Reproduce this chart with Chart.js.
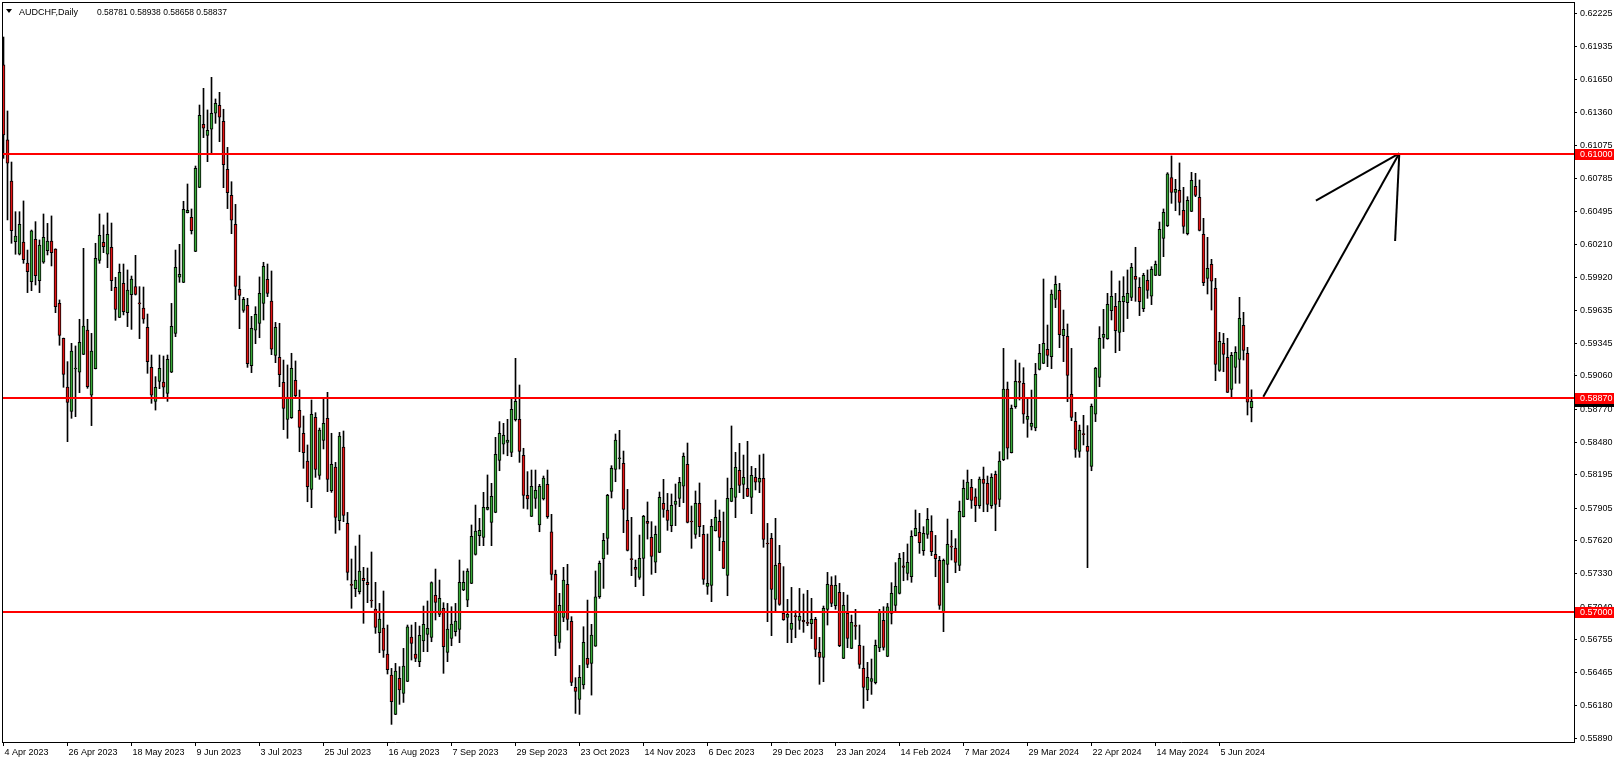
<!DOCTYPE html>
<html>
<head>
<meta charset="utf-8">
<script src="https://cdn.jsdelivr.net/npm/chart.js@4.4.1/dist/chart.umd.min.js"></script>
<style>
  html, body { margin: 0; padding: 0; background: #fff; }
  #wrap { width: 1620px; height: 763px; }
</style>
</head>
<body>
<div id="wrap"><canvas id="chart" width="1620" height="763"></canvas></div>
<script>
// AUDCHF daily candles, 4 Apr 2023 .. mid Jun 2024
const symbolTitle = 'AUDCHF,Daily';
const lastOHLC = [0.58781, 0.58938, 0.58658, 0.58837];

const opens = [
  0.61776,0.61121,0.60762,0.60232,0.60122,0.60229,0.60046,0.59883,0.60253,0.59892,
  0.60052,0.60154,0.60238,0.60168,0.59693,0.59388,0.58962,0.58750,0.59120,0.59091,
  0.59248,0.59460,0.58890,0.59123,0.60069,0.60226,0.60122,0.60183,0.59833,0.59571,
  0.59868,0.59612,0.59769,0.59839,0.59693,0.59653,0.59484,0.59134,0.58837,0.59012,
  0.59006,0.58907,0.59091,0.59431,0.59921,0.59877,0.60486,0.60445,0.60148,0.60707,
  0.61257,0.61161,0.61214,0.61354,0.61423,0.61284,0.60864,0.60637,0.60384,0.59816,
  0.59632,0.59676,0.59149,0.59458,0.59519,0.59693,0.59903,0.59714,0.59239,0.59222,
  0.59003,0.58680,0.58694,0.59021,0.58759,0.58558,0.58316,0.58068,0.58697,0.58191,
  0.58496,0.58689,0.58057,0.58263,0.57795,0.58438,0.57771,0.57235,0.57200,0.57174,
  0.57291,0.57256,0.57099,0.57023,0.56816,0.56857,0.56630,0.56446,0.56102,0.56417,
  0.56286,0.56391,0.56778,0.56630,0.56563,0.56743,0.56801,0.56775,0.57142,0.56976,
  0.57029,0.56644,0.56766,0.56825,0.56845,0.57189,0.57101,0.57247,0.57500,0.57663,
  0.57649,0.57894,0.57780,0.57867,0.58322,0.58462,0.58479,0.58392,0.58677,0.58680,
  0.58365,0.58016,0.57832,0.57990,0.57757,0.57984,0.58112,0.57698,0.57326,0.56731,
  0.56950,0.57238,0.56915,0.56338,0.56233,0.56359,0.56592,0.56548,0.56699,0.57130,
  0.57460,0.57640,0.58051,0.58243,0.58336,0.58295,0.57797,0.57460,0.57387,0.57299,
  0.57465,0.57789,0.57649,0.57431,0.57518,0.57946,0.57888,0.57751,0.57937,0.57990,
  0.58095,0.58287,0.57789,0.57675,0.57946,0.57675,0.57221,0.57230,0.57707,0.57789,
  0.57614,0.57317,0.57963,0.57998,0.58234,0.58112,0.58077,0.57998,0.58173,0.58130,
  0.58164,0.57597,0.57640,0.57107,0.57422,0.56985,0.56950,0.56845,0.56962,0.56924,
  0.56924,0.56903,0.56895,0.56932,0.56644,0.56600,0.57020,0.57232,0.57052,0.57168,
  0.56592,0.56985,0.56679,0.56877,0.56705,0.56504,0.56315,0.56391,0.56379,0.56682,
  0.56924,0.56609,0.56985,0.57055,0.57160,0.57401,0.57334,0.57305,0.57664,0.57693,
  0.57532,0.57675,0.57701,0.57500,0.57448,0.56999,0.57413,0.57570,0.57556,0.57404,
  0.57830,0.57981,0.58086,0.58004,0.57926,0.58159,0.58121,0.57926,0.58199,0.57981,
  0.58328,0.58945,0.58389,0.58791,0.59009,0.58995,0.58680,0.58619,0.58604,0.59117,
  0.59169,0.59292,0.59227,0.59728,0.59807,0.59411,0.59405,0.58898,0.58662,0.58400,
  0.58552,0.58444,0.58269,0.58724,0.59047,0.59396,0.59385,0.59629,0.59667,0.59440,
  0.59708,0.59699,0.59746,0.59929,0.59833,0.59647,0.59894,0.59755,0.59938,0.59938,
  0.60261,0.60372,0.60792,0.60663,0.60681,0.60506,0.60302,0.60497,0.60716,0.60620,
  0.60296,0.59912,0.60034,0.59825,0.59108,0.59344,0.59222,0.58942,0.59134,0.59204,
  0.59501,0.59257,0.58781
];
const highs = [
  0.62020,0.61374,0.60928,0.60494,0.60494,0.60588,0.60159,0.60334,0.60407,0.60247,
  0.60474,0.60392,0.60457,0.60170,0.59723,0.59390,0.59184,0.59344,0.59321,0.59554,
  0.60174,0.59554,0.59431,0.60218,0.60474,0.60378,0.60483,0.60395,0.59921,0.60037,
  0.60037,0.59985,0.59932,0.60113,0.59839,0.59836,0.59600,0.59242,0.59053,0.59242,
  0.59233,0.59242,0.59693,0.60159,0.60209,0.60585,0.60736,0.60518,0.60893,0.61426,
  0.61572,0.61383,0.61668,0.61479,0.61537,0.61389,0.61056,0.60756,0.60558,0.59932,
  0.59746,0.59737,0.59580,0.59664,0.59924,0.60052,0.60037,0.59976,0.59527,0.59519,
  0.59198,0.59155,0.59257,0.59190,0.58936,0.58709,0.58456,0.58849,0.58738,0.58604,
  0.58858,0.58916,0.58558,0.58304,0.58566,0.58578,0.57867,0.57460,0.57573,0.57669,
  0.57387,0.57381,0.57521,0.57256,0.57072,0.57180,0.56883,0.56504,0.56548,0.56519,
  0.56679,0.56883,0.56883,0.56906,0.56874,0.57049,0.57093,0.57260,0.57372,0.57276,
  0.57078,0.57072,0.57043,0.57072,0.57451,0.57355,0.57375,0.57757,0.57931,0.57815,
  0.58042,0.58194,0.58121,0.58523,0.58660,0.58645,0.58680,0.58863,0.59213,0.58980,
  0.58427,0.58223,0.58237,0.58237,0.58112,0.58185,0.58237,0.57850,0.57363,0.57160,
  0.57387,0.57413,0.56956,0.56423,0.56530,0.56868,0.57101,0.56889,0.57355,0.57442,
  0.57684,0.58025,0.58275,0.58552,0.58584,0.58403,0.58068,0.57824,0.57451,0.57669,
  0.57841,0.57958,0.57786,0.57748,0.58045,0.58156,0.58033,0.58028,0.58115,0.58173,
  0.58386,0.58473,0.57923,0.58054,0.58124,0.57754,0.57678,0.57806,0.57975,0.57888,
  0.57870,0.58167,0.58622,0.58392,0.58470,0.58368,0.58488,0.58269,0.58252,0.58368,
  0.58377,0.57771,0.57684,0.57815,0.57579,0.57393,0.57107,0.57212,0.57008,0.57203,
  0.57154,0.57186,0.57116,0.56950,0.56775,0.57049,0.57343,0.57305,0.57314,0.57247,
  0.57168,0.57145,0.56970,0.57020,0.56883,0.56699,0.56557,0.56586,0.56752,0.57020,
  0.57043,0.57072,0.57253,0.57428,0.57509,0.57518,0.57591,0.57707,0.57888,0.57859,
  0.57742,0.57902,0.57838,0.57666,0.57483,0.57460,0.57809,0.57710,0.57637,0.57966,
  0.58150,0.58237,0.58156,0.58074,0.58176,0.58263,0.58185,0.58205,0.58228,0.58397,
  0.59300,0.59006,0.58805,0.59198,0.59172,0.59131,0.58869,0.58936,0.59169,0.59335,
  0.59906,0.59504,0.59810,0.59932,0.59868,0.59635,0.59513,0.59300,0.58741,0.58630,
  0.58715,0.58625,0.58814,0.59134,0.59490,0.59641,0.59781,0.59976,0.59781,0.59889,
  0.59926,0.59985,0.60043,0.60183,0.59918,0.59956,0.59985,0.60014,0.60063,0.60404,
  0.60518,0.60835,0.60981,0.60777,0.60920,0.60707,0.60625,0.60838,0.60829,0.60771,
  0.60436,0.60270,0.60078,0.59912,0.59440,0.59431,0.59388,0.59265,0.59315,0.59746,
  0.59615,0.59309,0.58938
];
const lows = [
  0.60960,0.60422,0.60218,0.60122,0.60116,0.60043,0.59787,0.59804,0.59854,0.59787,
  0.60043,0.60116,0.60020,0.59612,0.59327,0.58960,0.58485,0.58689,0.58703,0.58913,
  0.59245,0.58951,0.58625,0.59120,0.60043,0.60136,0.60005,0.59804,0.59545,0.59568,
  0.59592,0.59490,0.59466,0.59766,0.59385,0.59519,0.59082,0.58820,0.58761,0.58948,
  0.58878,0.58837,0.59088,0.59402,0.59877,0.59874,0.60483,0.60299,0.60145,0.60704,
  0.61141,0.60931,0.60995,0.61266,0.61106,0.60704,0.60521,0.60302,0.59725,0.59472,
  0.59615,0.59134,0.59088,0.59341,0.59393,0.59548,0.59752,0.59245,0.59175,0.58965,
  0.58590,0.58514,0.58688,0.58863,0.58397,0.58252,0.57960,0.57908,0.58173,0.58156,
  0.58421,0.58048,0.58042,0.57684,0.57713,0.57786,0.57276,0.57029,0.57131,0.57154,
  0.56898,0.57078,0.57037,0.56810,0.56641,0.56600,0.56455,0.56015,0.56100,0.56190,
  0.56207,0.56388,0.56577,0.56563,0.56519,0.56650,0.56650,0.56737,0.56927,0.56956,
  0.56461,0.56563,0.56702,0.56787,0.56729,0.57183,0.57043,0.57244,0.57494,0.57576,
  0.57576,0.57888,0.57576,0.57864,0.58231,0.58377,0.58362,0.58354,0.58665,0.58304,
  0.57902,0.57896,0.57830,0.57902,0.57698,0.57975,0.57815,0.57276,0.56615,0.56679,
  0.56912,0.56839,0.56353,0.56111,0.56102,0.56324,0.56510,0.56271,0.56696,0.57116,
  0.57203,0.57500,0.57993,0.58135,0.58246,0.57690,0.57530,0.57314,0.57218,0.57282,
  0.57139,0.57634,0.57326,0.57340,0.57515,0.57824,0.57710,0.57698,0.57751,0.57917,
  0.57952,0.57775,0.57553,0.57640,0.57655,0.57238,0.57151,0.57087,0.57704,0.57532,
  0.57375,0.57139,0.57960,0.57821,0.58039,0.57987,0.58005,0.57856,0.58063,0.58039,
  0.57562,0.56912,0.56790,0.56999,0.57055,0.56924,0.56729,0.56729,0.56772,0.56845,
  0.56819,0.56877,0.56764,0.56606,0.56365,0.56388,0.56883,0.57043,0.57020,0.56694,
  0.56589,0.56685,0.56676,0.56758,0.56504,0.56155,0.56222,0.56277,0.56368,0.56650,
  0.56664,0.56606,0.56892,0.57008,0.57154,0.57270,0.57276,0.57256,0.57661,0.57509,
  0.57492,0.57640,0.57489,0.57305,0.57020,0.56825,0.57253,0.57451,0.57340,0.57358,
  0.57827,0.57978,0.57902,0.57786,0.57902,0.57873,0.57873,0.57902,0.57707,0.57917,
  0.58319,0.58333,0.58386,0.58776,0.58849,0.58645,0.58523,0.58587,0.58580,0.59111,
  0.59166,0.59140,0.59123,0.59656,0.59306,0.59184,0.58834,0.58668,0.58348,0.58348,
  0.58456,0.57384,0.58231,0.58660,0.58965,0.59300,0.59379,0.59548,0.59262,0.59280,
  0.59446,0.59560,0.59717,0.59711,0.59586,0.59621,0.59737,0.59682,0.59935,0.59935,
  0.60101,0.60364,0.60567,0.60503,0.60465,0.60305,0.60291,0.60494,0.60625,0.60326,
  0.59848,0.59775,0.59635,0.59018,0.59099,0.59096,0.58914,0.58861,0.58995,0.58995,
  0.59198,0.58718,0.58658
];
const closes = [
  0.61164,0.60917,0.60328,0.60282,0.60384,0.60075,0.59970,0.60326,0.59935,0.60203,
  0.60270,0.60238,0.60136,0.59664,0.59414,0.59073,0.58828,0.59277,0.59126,0.59353,
  0.59495,0.58965,0.59277,0.60087,0.60288,0.60189,0.60296,0.59892,0.59641,0.59964,
  0.59621,0.59810,0.59906,0.59772,0.59688,0.59554,0.59184,0.58890,0.58960,0.59126,
  0.58960,0.59204,0.59492,0.60008,0.59947,0.60515,0.60506,0.60328,0.60873,0.61336,
  0.61223,0.61205,0.61354,0.61441,0.61319,0.60905,0.60660,0.60419,0.59842,0.59763,
  0.59728,0.59166,0.59475,0.59597,0.59781,0.60017,0.59781,0.59292,0.59484,0.59070,
  0.58776,0.58863,0.59126,0.58887,0.58610,0.58389,0.58092,0.58724,0.58243,0.58587,
  0.58645,0.58156,0.58287,0.57824,0.58534,0.57841,0.57343,0.57230,0.57276,0.57355,
  0.57270,0.57235,0.57093,0.56863,0.56935,0.56662,0.56493,0.56213,0.56481,0.56315,
  0.56525,0.56868,0.56723,0.56592,0.56793,0.56889,0.56854,0.57253,0.57081,0.57116,
  0.56694,0.56848,0.56892,0.56918,0.57256,0.57256,0.57355,0.57658,0.57704,0.57710,
  0.57911,0.57911,0.58007,0.58374,0.58558,0.58540,0.58499,0.58767,0.58837,0.58400,
  0.58016,0.57984,0.58095,0.58060,0.58095,0.58167,0.57829,0.57326,0.56790,0.57055,
  0.57276,0.56932,0.56382,0.56303,0.56426,0.56731,0.56539,0.56796,0.57130,0.57422,
  0.57623,0.58016,0.58252,0.58499,0.58342,0.57894,0.57535,0.57454,0.57369,0.57465,
  0.57832,0.57771,0.57483,0.57675,0.57998,0.57894,0.57797,0.57929,0.57966,0.58130,
  0.58357,0.57780,0.57783,0.57946,0.57742,0.57282,0.57247,0.57745,0.57824,0.57649,
  0.57378,0.57990,0.58077,0.58261,0.58103,0.58173,0.58007,0.58191,0.58130,0.58164,
  0.57631,0.57591,0.57195,0.57404,0.57063,0.56930,0.56976,0.56898,0.56956,0.56959,
  0.56912,0.56898,0.56932,0.56670,0.56600,0.57028,0.57238,0.57072,0.57230,0.56702,
  0.57055,0.56766,0.56906,0.56871,0.56539,0.56338,0.56426,0.56414,0.56705,0.56999,
  0.56688,0.57043,0.57160,0.57221,0.57465,0.57387,0.57430,0.57658,0.57728,0.57602,
  0.57684,0.57806,0.57524,0.57463,0.57055,0.57448,0.57588,0.57564,0.57430,0.57876,
  0.58077,0.58132,0.57972,0.57926,0.58159,0.58121,0.57937,0.58173,0.57937,0.58316,
  0.58945,0.58427,0.58776,0.59012,0.59003,0.58724,0.58706,0.58645,0.59073,0.59257,
  0.59344,0.59239,0.59775,0.59860,0.59420,0.59466,0.59064,0.58697,0.58418,0.58584,
  0.58546,0.58400,0.58794,0.59126,0.59388,0.59423,0.59685,0.59755,0.59455,0.59711,
  0.59755,0.59781,0.60008,0.59903,0.59708,0.59938,0.59807,0.59991,0.60034,0.60340,
  0.60489,0.60824,0.60663,0.60690,0.60576,0.60366,0.60593,0.60768,0.60637,0.60331,
  0.59874,0.59999,0.59886,0.59160,0.59361,0.59248,0.58916,0.59239,0.59265,0.59562,
  0.59283,0.58829,0.58837
];

// right price axis
const yTicks = [0.62225,0.61935,0.61650,0.61360,0.61075,0.60785,0.60495,0.60210,0.59920,0.59635,
  0.59345,0.59060,0.58770,0.58480,0.58195,0.57905,0.57620,0.57330,0.57040,0.56755,0.56465,0.56180,0.55890];
const yMin = 0.55861, yMax = 0.62326;

// bottom time axis (bar index -> label)
const dateTickIndex = [0,16,32,48,64,80,96,112,128,144,160,176,192,208,224,240,256,272,288,304];
const dateTickLabels = ['4 Apr 2023','26 Apr 2023','18 May 2023','9 Jun 2023','3 Jul 2023','25 Jul 2023',
  '16 Aug 2023','7 Sep 2023','29 Sep 2023','23 Oct 2023','14 Nov 2023','6 Dec 2023','29 Dec 2023',
  '23 Jan 2024','14 Feb 2024','7 Mar 2024','29 Mar 2024','22 Apr 2024','14 May 2024','5 Jun 2024'];
const xMin = -0.375, xMax = 392.625;

// horizontal levels + hand-drawn arrow (bar index, price)
const levels = [0.61000, 0.58870, 0.57000];
const arrowX = [[314.95, 348.95], [348.95, 328.1], [348.95, 347.9]];
const arrowY = [[0.58878, 0.61004], [0.61004, 0.60590], [0.61004, 0.60238]];

const FONT = '"Liberation Sans", Arial, sans-serif';
const UP = '#37a837', DOWN = '#e31414';

const idx = opens.map((_, i) => i);
const wickData = idx.map(i => ({ x: i, y: [lows[i], highs[i]] }));
const bodyData = idx.map(i => ({ x: i, y: [opens[i], closes[i]] }));
const bodyColors = idx.map(i => closes[i] >= opens[i] ? UP : DOWN);

const arrowSets = arrowX.map((xs, k) => ({
  type: 'line',
  data: xs.map((x, j) => ({ x: x, y: arrowY[k][j] })),
  borderColor: '#000',
  borderWidth: 2,
  pointRadius: 0,
  tension: 0,
  fill: false,
  order: 2
}));

function priceLabel(ctx, y, text, bg) {
  ctx.fillStyle = bg;
  ctx.fillRect(1575, Math.round(y) - 5, 39, 11);
  ctx.fillStyle = '#fff';
  ctx.textBaseline = 'middle';
  ctx.textAlign = 'left';
  ctx.fillText(text, 1580, Math.round(y) + 0.5);
}

const decor = {
  id: 'decor',
  afterDatasetsDraw(chart) {
    const ctx = chart.ctx, a = chart.chartArea, ys = chart.scales.y;
    ctx.save();
    // red support / resistance lines
    ctx.strokeStyle = '#ff0000';
    ctx.lineWidth = 2;
    levels.forEach(v => {
      const y = Math.round(ys.getPixelForValue(v));
      ctx.beginPath();
      ctx.moveTo(a.left, y);
      ctx.lineTo(a.right, y);
      ctx.stroke();
    });
    ctx.restore();
  },
  afterDraw(chart) {
    const ctx = chart.ctx, a = chart.chartArea, ys = chart.scales.y;
    ctx.save();
    // frame left/top
    ctx.fillStyle = '#000';
    ctx.fillRect(a.left, a.top, 1, a.bottom - a.top);
    ctx.fillRect(a.left, a.top, a.right - a.left, 1);

    ctx.font = '9px ' + FONT;
    // current bid label (black), then level labels on top
    priceLabel(ctx, ys.getPixelForValue(lastOHLC[3]), lastOHLC[3].toFixed(5), '#000');
    levels.forEach(v => priceLabel(ctx, ys.getPixelForValue(v), v.toFixed(5), '#ff0000'));

    // title
    ctx.fillStyle = '#000';
    ctx.beginPath();
    ctx.moveTo(6, 9); ctx.lineTo(12, 9); ctx.lineTo(9, 13); ctx.closePath();
    ctx.fill();
    ctx.textBaseline = 'alphabetic';
    ctx.textAlign = 'left';
    ctx.font = '9px ' + FONT;
    ctx.fillText(symbolTitle, 19, 15);
    ctx.font = '8.5px ' + FONT;
    ctx.fillText(lastOHLC.map(v => v.toFixed(5)).join(' '), 97, 15);
    ctx.restore();
  }
};

new Chart(document.getElementById('chart'), {
  type: 'bar',
  data: {
    datasets: [
      {
        data: bodyData,
        backgroundColor: bodyColors,
        borderColor: '#000',
        borderWidth: 1,
        borderSkipped: false,
        barThickness: 3,
        minBarLength: 1,
        grouped: false,
        order: 0
      },
      {
        data: wickData,
        backgroundColor: '#000',
        borderWidth: 0,
        barThickness: 1,
        minBarLength: 1,
        grouped: false,
        order: 1
      },
      ...arrowSets
    ]
  },
  options: {
    responsive: false,
    animation: false,
    events: [],
    layout: { padding: { left: 2, top: 2, right: 0, bottom: 0 } },
    plugins: { legend: { display: false }, tooltip: { enabled: false } },
    scales: {
      x: {
        type: 'linear',
        min: xMin,
        max: xMax,
        offset: false,
        afterBuildTicks: s => { s.ticks = dateTickIndex.map(v => ({ value: v })); },
        afterFit: s => { s.height = 21; s.paddingLeft = 0; s.paddingRight = 0; },
        ticks: {
          callback: v => dateTickLabels[dateTickIndex.indexOf(v)],
          autoSkip: false,
          maxRotation: 0,
          minRotation: 0,
          align: 'start',
          labelOffset: 1,
          padding: 1,
          color: '#000',
          font: { family: FONT, size: 9 }
        },
        grid: { drawOnChartArea: false, drawTicks: true, tickLength: 4, color: '#000', offset: false },
        border: { display: true, color: '#000', width: 1 }
      },
      y: {
        type: 'linear',
        position: 'right',
        min: yMin,
        max: yMax,
        afterBuildTicks: s => { s.ticks = yTicks.map(v => ({ value: v })); },
        afterFit: s => { s.width = 46; s.paddingTop = 0; s.paddingBottom = 0; },
        ticks: {
          callback: v => Number(v).toFixed(5),
          autoSkip: false,
          padding: 3,
          color: '#000',
          font: { family: FONT, size: 9 }
        },
        grid: { drawOnChartArea: false, drawTicks: true, tickLength: 3, color: '#000' },
        border: { display: true, color: '#000', width: 1 }
      }
    }
  },
  plugins: [decor]
});
</script>
</body>
</html>
